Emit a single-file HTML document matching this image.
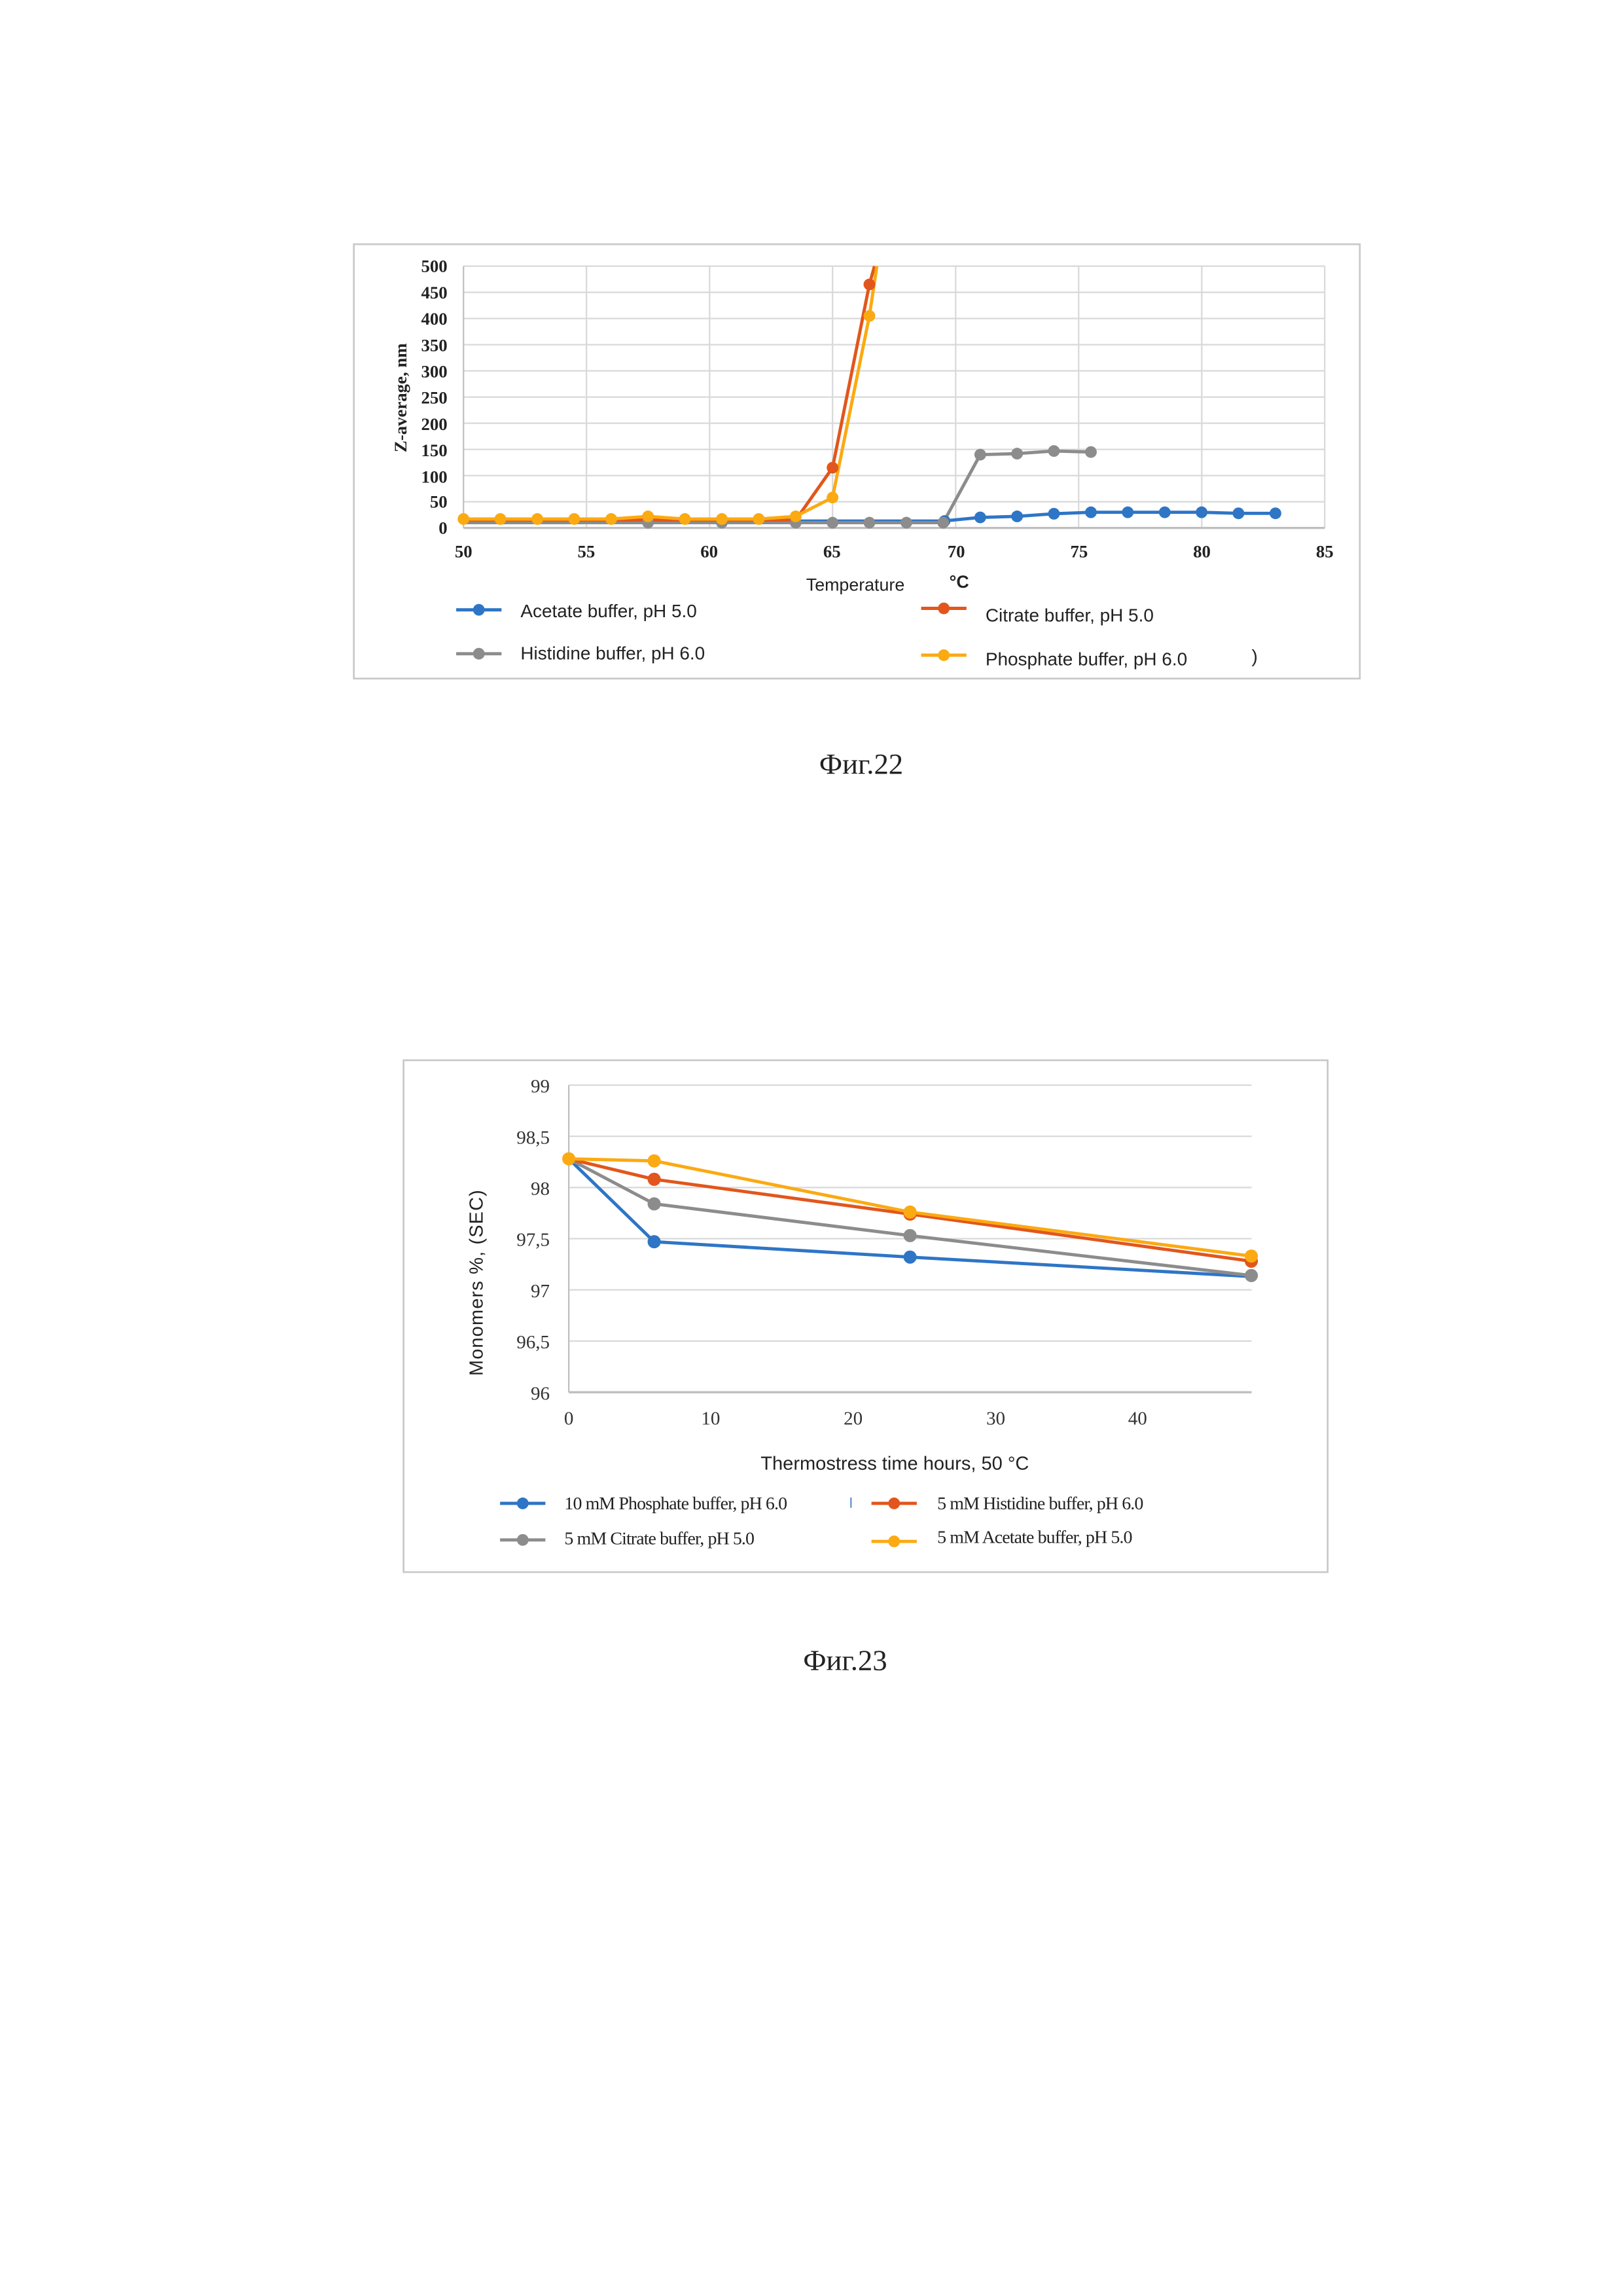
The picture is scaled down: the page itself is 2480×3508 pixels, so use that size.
<!DOCTYPE html>
<html><head><meta charset="utf-8"><style>html,body{margin:0;padding:0;background:#fff}svg{display:block}</style></head>
<body>
<svg width="2480" height="3508" viewBox="0 0 1110 1570" preserveAspectRatio="none" xmlns="http://www.w3.org/2000/svg">
<rect x="0" y="0" width="1110" height="1570" fill="#fff"/>
<!-- Chart 1 -->
<rect x="242" y="167" width="688" height="297" fill="#fff" stroke="#c8c8c8" stroke-width="1.2"/>
<g stroke="#d9d9d9" stroke-width="1">
<line x1="317" y1="182" x2="906" y2="182"/><line x1="317" y1="199.9" x2="906" y2="199.9"/><line x1="317" y1="217.8" x2="906" y2="217.8"/><line x1="317" y1="235.7" x2="906" y2="235.7"/><line x1="317" y1="253.6" x2="906" y2="253.6"/><line x1="317" y1="271.5" x2="906" y2="271.5"/><line x1="317" y1="289.4" x2="906" y2="289.4"/><line x1="317" y1="307.3" x2="906" y2="307.3"/><line x1="317" y1="325.2" x2="906" y2="325.2"/><line x1="317" y1="343.1" x2="906" y2="343.1"/>
<line x1="401.1" y1="182" x2="401.1" y2="361"/><line x1="485.3" y1="182" x2="485.3" y2="361"/><line x1="569.4" y1="182" x2="569.4" y2="361"/><line x1="653.6" y1="182" x2="653.6" y2="361"/><line x1="737.7" y1="182" x2="737.7" y2="361"/><line x1="821.9" y1="182" x2="821.9" y2="361"/><line x1="906" y1="182" x2="906" y2="361"/>
</g>
<line x1="317" y1="182" x2="317" y2="361" stroke="#bfbfbf"/><line x1="317" y1="361" x2="906" y2="361" stroke="#bfbfbf" stroke-width="1.5"/>
<g font-family="Liberation Serif, serif" font-weight="bold" font-size="12" fill="#222" text-anchor="end">
<text x="306" y="186">500</text><text x="306" y="204">450</text><text x="306" y="222">400</text><text x="306" y="240">350</text><text x="306" y="258">300</text><text x="306" y="276">250</text><text x="306" y="294">200</text><text x="306" y="312">150</text><text x="306" y="330">100</text><text x="306" y="347">50</text><text x="306" y="365">0</text>
</g>
<g font-family="Liberation Serif, serif" font-weight="bold" font-size="12" fill="#222" text-anchor="middle">
<text x="317" y="381">50</text><text x="401" y="381">55</text><text x="485" y="381">60</text><text x="569" y="381">65</text><text x="654" y="381">70</text><text x="738" y="381">75</text><text x="822" y="381">80</text><text x="906" y="381">85</text>
</g>
<text transform="translate(278,272) rotate(-90)" font-family="Liberation Serif, serif" font-weight="bold" font-size="12" fill="#222" text-anchor="middle">Z-average, nm</text>
<text x="585" y="404" font-family="Liberation Sans, sans-serif" font-size="12" fill="#222" text-anchor="middle">Temperature</text>
<text x="656" y="402" font-family="Liberation Sans, sans-serif" font-weight="bold" font-size="12" fill="#222" text-anchor="middle">°C</text>
<g fill="none" stroke-width="2.2" stroke-linejoin="round">
<polyline stroke="#2e75c6" points="317,356.3 342.2,356.3 367.5,356.3 392.7,356.3 418,356.3 443.2,356.3 468.4,356.3 493.7,356.3 518.9,356.3 544.2,356.3 569.4,356.3 594.6,356.3 619.9,356.3 645.1,356.3 670.4,353.8 695.6,353.1 720.8,351.3 746.1,350.3 771.3,350.3 796.6,350.3 821.8,350.3 847,351 872.3,351"/>
<polyline stroke="#8c8c8c" points="317,357.4 342.2,357.4 367.5,357.4 392.7,357.4 418,357.4 443.2,357.4 468.4,357.4 493.7,357.4 518.9,357.4 544.2,357.4 569.4,357.4 594.6,357.4 619.9,357.4 645.1,357.4 670.4,310.9 695.6,310.2 720.8,308.4 746.1,309.1"/>
<polyline stroke="#e2561d" points="317,355.6 342.2,355.6 367.5,355.6 392.7,355.6 418,355.6 443.2,355.6 468.4,355.6 493.7,355.6 518.9,355.6 544.2,355.6 569.4,319.8 594.6,194.5 598.1,182"/>
<polyline stroke="#fbaa12" points="317,354.9 342.2,354.9 367.5,354.9 392.7,354.9 418,354.9 443.2,353.1 468.4,354.9 493.7,354.9 518.9,354.9 544.2,353.1 569.4,340.2 594.6,216 599.7,182"/>
</g>
<g fill="#2e75c6"><circle cx="646" cy="356.3" r="4"/><circle cx="670.4" cy="353.8" r="4"/><circle cx="695.6" cy="353.1" r="4"/><circle cx="720.8" cy="351.3" r="4"/><circle cx="746.1" cy="350.3" r="4"/><circle cx="771.3" cy="350.3" r="4"/><circle cx="796.6" cy="350.3" r="4"/><circle cx="821.8" cy="350.3" r="4"/><circle cx="847" cy="351" r="4"/><circle cx="872.3" cy="351" r="4"/></g>
<g fill="#8c8c8c"><circle cx="443.2" cy="357.4" r="4"/><circle cx="493.7" cy="357.4" r="4"/><circle cx="544.2" cy="357.4" r="4"/><circle cx="569.4" cy="357.4" r="4"/><circle cx="594.6" cy="357.4" r="4"/><circle cx="619.9" cy="357.4" r="4"/><circle cx="645.1" cy="357.4" r="4"/><circle cx="670.4" cy="310.9" r="4"/><circle cx="695.6" cy="310.2" r="4"/><circle cx="720.8" cy="308.4" r="4"/><circle cx="746.1" cy="309.1" r="4"/></g>
<g fill="#e2561d"><circle cx="569.4" cy="319.8" r="4"/><circle cx="594.6" cy="194.5" r="4"/></g>
<g fill="#fbaa12"><circle cx="317" cy="354.9" r="4"/><circle cx="342.2" cy="354.9" r="4"/><circle cx="367.5" cy="354.9" r="4"/><circle cx="392.7" cy="354.9" r="4"/><circle cx="418" cy="354.9" r="4"/><circle cx="443.2" cy="353.1" r="4"/><circle cx="468.4" cy="354.9" r="4"/><circle cx="493.7" cy="354.9" r="4"/><circle cx="518.9" cy="354.9" r="4"/><circle cx="544.2" cy="353.1" r="4"/><circle cx="569.4" cy="340.2" r="4"/><circle cx="594.6" cy="216" r="4"/></g>
<g stroke-width="2.2">
<line x1="312" y1="417" x2="343" y2="417" stroke="#2e75c6"/><circle cx="327.5" cy="417" r="4" fill="#2e75c6"/>
<line x1="312" y1="447" x2="343" y2="447" stroke="#8c8c8c"/><circle cx="327.5" cy="447" r="4" fill="#8c8c8c"/>
<line x1="630" y1="416" x2="661" y2="416" stroke="#e2561d"/><circle cx="645.5" cy="416" r="4" fill="#e2561d"/>
<line x1="630" y1="448" x2="661" y2="448" stroke="#fbaa12"/><circle cx="645.5" cy="448" r="4" fill="#fbaa12"/>
</g>
<g font-family="Liberation Sans, sans-serif" font-size="12.5" fill="#222">
<text x="356" y="422">Acetate buffer, pH 5.0</text><text x="356" y="451">Histidine buffer, pH 6.0</text>
<text x="674" y="425">Citrate buffer, pH 5.0</text><text x="674" y="455">Phosphate buffer, pH 6.0</text>
<text x="856" y="453">)</text>
</g>
<text x="589" y="529" font-family="Liberation Serif, serif" font-size="20" fill="#222" text-anchor="middle">Фиг.22</text>
<!-- Chart 2 -->
<rect x="276" y="725" width="632" height="350" fill="#fff" stroke="#c8c8c8" stroke-width="1.2"/>
<g stroke="#d9d9d9" stroke-width="1">
<line x1="389" y1="742" x2="856" y2="742"/><line x1="389" y1="777" x2="856" y2="777"/><line x1="389" y1="812" x2="856" y2="812"/><line x1="389" y1="847" x2="856" y2="847"/><line x1="389" y1="882" x2="856" y2="882"/><line x1="389" y1="917" x2="856" y2="917"/>
</g>
<line x1="389" y1="742" x2="389" y2="952" stroke="#bfbfbf"/><line x1="389" y1="952" x2="856" y2="952" stroke="#bfbfbf" stroke-width="1.5"/>
<g font-family="Liberation Serif, serif" font-size="13" fill="#333" text-anchor="end">
<text x="376" y="747">99</text><text x="376" y="782">98,5</text><text x="376" y="817">98</text><text x="376" y="852">97,5</text><text x="376" y="887">97</text><text x="376" y="922">96,5</text><text x="376" y="957">96</text>
</g>
<g font-family="Liberation Serif, serif" font-size="13" fill="#333" text-anchor="middle">
<text x="389" y="974">0</text><text x="486" y="974">10</text><text x="583.5" y="974">20</text><text x="681" y="974">30</text><text x="778" y="974">40</text>
</g>
<text transform="translate(330,877) rotate(-90)" font-family="Liberation Sans, sans-serif" font-size="13" fill="#222" text-anchor="middle" letter-spacing="0.5">Monomers %, (SEC)</text>
<text x="612" y="1005" font-family="Liberation Sans, sans-serif" font-size="13" fill="#222" text-anchor="middle">Thermostress time  hours, 50 °C</text>
<g fill="none" stroke-width="2.2" stroke-linejoin="round">
<polyline stroke="#2e75c6" points="389,792.4 447.4,849.1 622.4,859.6 855.8,872.9"/>
<polyline stroke="#8c8c8c" points="389,792.4 447.4,823.2 622.4,844.9 855.8,872.2"/>
<polyline stroke="#e2561d" points="389,792.4 447.4,806.4 622.4,830.2 855.8,862.4"/>
<polyline stroke="#fbaa12" points="389,792.4 447.4,793.8 622.4,828.8 855.8,858.9"/>
</g>
<g fill="#2e75c6"><circle cx="447.4" cy="849.1" r="4.5"/><circle cx="622.4" cy="859.6" r="4.5"/></g>
<g fill="#8c8c8c"><circle cx="447.4" cy="823.2" r="4.5"/><circle cx="622.4" cy="844.9" r="4.5"/><circle cx="855.8" cy="872.2" r="4.5"/></g>
<g fill="#e2561d"><circle cx="447.4" cy="806.4" r="4.5"/><circle cx="622.4" cy="830.2" r="4.5"/><circle cx="855.8" cy="862.4" r="4.5"/></g>
<g fill="#fbaa12"><circle cx="389" cy="792.4" r="4.5"/><circle cx="447.4" cy="793.8" r="4.5"/><circle cx="622.4" cy="828.8" r="4.5"/><circle cx="855.8" cy="858.9" r="4.5"/></g>
<g stroke-width="2.2">
<line x1="342" y1="1028" x2="373" y2="1028" stroke="#2e75c6"/><circle cx="357.5" cy="1028" r="4" fill="#2e75c6"/>
<line x1="342" y1="1053" x2="373" y2="1053" stroke="#8c8c8c"/><circle cx="357.5" cy="1053" r="4" fill="#8c8c8c"/>
<line x1="596" y1="1028" x2="627" y2="1028" stroke="#e2561d"/><circle cx="611.5" cy="1028" r="4" fill="#e2561d"/>
<line x1="596" y1="1054" x2="627" y2="1054" stroke="#fbaa12"/><circle cx="611.5" cy="1054" r="4" fill="#fbaa12"/>
</g>
<g font-family="Liberation Serif, serif" font-size="12.5" fill="#222" letter-spacing="-0.4">
<text x="386" y="1032">10 mM Phosphate buffer, pH 6.0</text><text x="386" y="1056">5 mM Citrate buffer, pH 5.0</text>
<text x="641" y="1032">5 mM Histidine buffer, pH 6.0</text><text x="641" y="1055">5 mM Acetate buffer, pH 5.0</text>
</g>
<line x1="582" y1="1024" x2="582" y2="1031" stroke="#5b8fd0" stroke-width="1"/>
<text x="578" y="1142" font-family="Liberation Serif, serif" font-size="20" fill="#222" text-anchor="middle">Фиг.23</text>
</svg>
</body></html>
